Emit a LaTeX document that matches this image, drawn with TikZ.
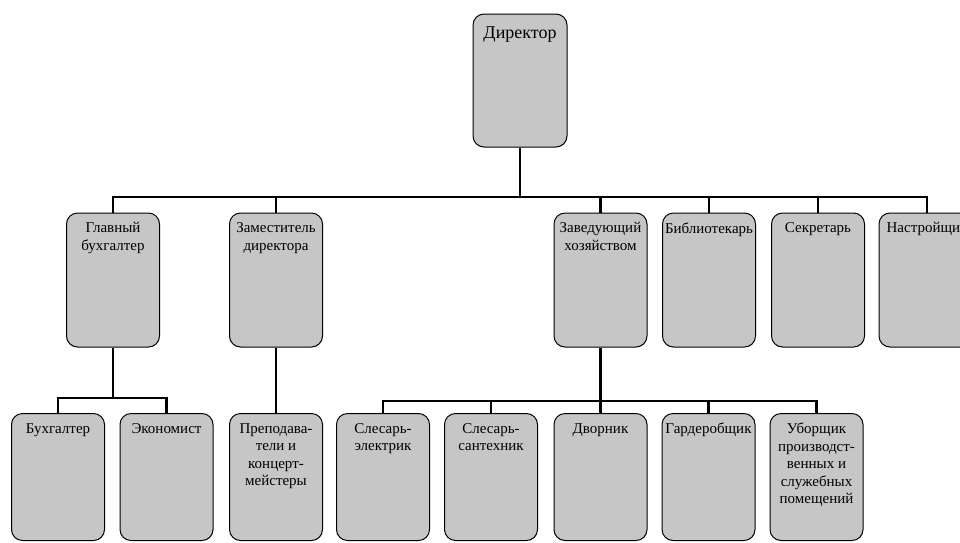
\documentclass[tikz,border=0pt]{standalone}
\usepackage{fontspec}
\setmainfont{Liberation Serif}
\usepackage{tikz}
\usetikzlibrary{positioning, calc}

\definecolor{boxgray}{HTML}{C6C6C6}

\begin{document}
\begin{tikzpicture}[x=1pt, y=-1pt,
    unit/.style={draw, fill=boxgray, rounded corners=11pt, line width=1pt, minimum width=93pt, inner sep=0pt},
    tall/.style={unit, minimum height=134pt},
    low/.style={unit, minimum height=127pt},
    link/.style={line width=2.6pt},
    every label/.style={font=\fontsize{15}{17.5}\selectfont, align=center, inner sep=0pt, anchor=north, yshift=-10pt}]
                        \useasboundingbox (0, 0) rectangle (960, 542);
                        \clip (0, 0) rectangle (960, 542);
                        \node[unit, minimum width=94pt, minimum height=133pt, label={[font=\fontsize{18}{21}\selectfont, yshift=-3pt]north:Директор}] (dir) at (520, 80.5) {};
                        \node[tall, label={north:Главный\\бухгалтер}] (gb) at (113, 280) {};
                        \node[tall, label={north:Заместитель\\директора}] (zam) at (276, 280) {};
                        \node[tall, label={north:Заведующий\\хозяйством}] (zav) at (600.5, 280) {};
                        \node[tall, label={north:Библиотекарь}] (bib) at (709, 280) {};
                        \node[tall, label={north:Секретарь}] (sek) at (818, 280) {};
                        \node[tall, minimum width=96pt, label={north:Настройщик}] (nast) at (927, 280) {};
                        \node[low, label={north:Бухгалтер}] (buh) at (58, 477) {};
                        \node[low, label={north:Экономист}] (econ) at (166.5, 477) {};
                        \node[low, label={north:Преподава-\\тели и\\концерт-\\мейстеры}] (prep) at (276, 477) {};
                        \node[low, label={north:Слесарь-\\электрик}] (sel) at (383, 477) {};
                        \node[low, label={north:Слесарь-\\сантехник}] (san) at (491, 477) {};
                        \node[low, label={north:Дворник}] (dvor) at (600.5, 477) {};
                        \node[low, label={north:Гардеробщик}] (gard) at (708.5, 477) {};
                        \node[low, label={north:Уборщик\\производст-\\венных и\\служебных\\помещений}] (ub) at (816.5, 477) {};
                        \coordinate (bus) at (0, 197);
                        \coordinate (busA) at (0, 398);
                        \coordinate (busB) at (0, 401);
                        \draw[link] (dir.south) -- (dir.south |- bus);
                        \draw[link] (gb.north) |- (nast.north |- bus) -- (nast.north);
                        \foreach \n in {zam, zav, bib, sek}
                            \draw[link] (\n.north) -- (\n.north |- bus);
                        \draw[link] (gb.south) -- (gb.south |- busA);
                        \draw[link] (buh.north) |- (econ.north |- busA) -- (econ.north);
                        \draw[link] (zam.south) -- (prep.north);
                        \draw[link] (zav.south) -- (zav.south |- busB);
                        \draw[link] (sel.north) |- (ub.north |- busB) -- (ub.north);
                        \foreach \n in {san, dvor, gard}
                            \draw[link] (\n.north) -- (\n.north |- busB);
                    \end{tikzpicture}
\end{document}
